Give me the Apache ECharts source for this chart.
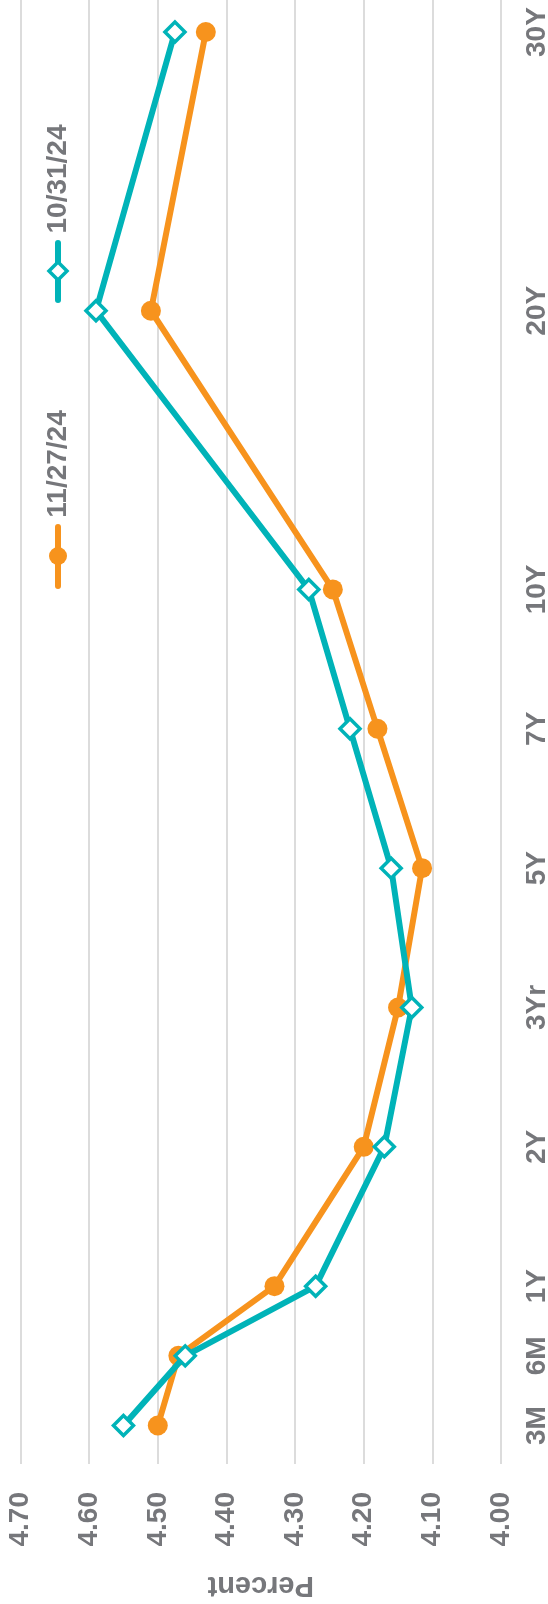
<!DOCTYPE html>
<html>
<head>
<meta charset="utf-8">
<script src="https://cdn.jsdelivr.net/npm/echarts@6/dist/echarts.min.js"></script>
<style>
html,body{margin:0;padding:0;background:#fff;}
#chart{width:548px;height:1604px;}
</style>
</head>
<body>
<div id="chart"></div>
<script>
// Tenor labels and their positions along the maturity axis
const tenors = ['3M', '6M', '1Y', '2Y', '3Yr', '5Y', '7Y', '10Y', '20Y', '30Y'];
const tenorPos = [0, 0.5, 1, 2, 3, 4, 5, 6, 8, 10];
// Yields (percent)
const seriesNames = ['11/27/24', '10/31/24'];
const yieldsNov27 = [4.50, 4.47, 4.33, 4.20, 4.15, 4.115, 4.18, 4.245, 4.51, 4.43];
const yieldsOct31 = [4.55, 4.46, 4.27, 4.17, 4.13, 4.16, 4.22, 4.28, 4.59, 4.475];

const ORANGE = '#f7931d';
const TEAL = '#00b3b8';
const GREY = '#76777b';
const FONT = '"Liberation Sans", Arial, sans-serif';

const chart = echarts.init(document.getElementById('chart'));

function pts(vals) { return vals.map((v, i) => [v, tenorPos[i]]); }

const legendTextStyle = { fill: GREY, font: 'bold 28px ' + FONT, align: 'center', verticalAlign: 'middle' };

chart.setOption({
  animation: false,
  backgroundColor: '#ffffff',
  grid: { left: 20.5, right: 47, top: 0, bottom: 140, containLabel: false, outerBoundsMode: 'none' },
  xAxis: {
    type: 'value',
    min: 4.0, max: 4.7, interval: 0.1,
    inverse: true,
    position: 'bottom',
    axisLine: { show: false },
    axisTick: { show: false },
    splitLine: { show: true, lineStyle: { color: '#dcdcdc', width: 2 } },
    axisLabel: {
      rotate: 90, margin: 28, color: GREY, fontSize: 28, fontWeight: 'bold', fontFamily: FONT,
      formatter: v => v.toFixed(2)
    },
    name: 'Percent', nameLocation: 'middle', nameRotate: 180, nameGap: 106,
    nameTextStyle: { color: GREY, fontSize: 29, fontWeight: 'bold', fontFamily: FONT }
  },
  yAxis: {
    type: 'value',
    min: -0.276, max: 10.23,
    position: 'right',
    axisLine: { show: false },
    axisTick: { show: false },
    splitLine: { show: false },
    axisLabel: {
      customValues: tenorPos,
      rotate: 90, margin: 22, color: GREY, fontSize: 28, fontWeight: 'bold', fontFamily: FONT,
      formatter: v => { const i = tenorPos.indexOf(v); return i >= 0 ? tenors[i] : ''; }
    }
  },
  series: [
    {
      name: seriesNames[0], type: 'line', data: pts(yieldsNov27),
      symbol: 'circle', symbolSize: 20,
      lineStyle: { color: ORANGE, width: 6 },
      itemStyle: { color: ORANGE, borderColor: ORANGE, borderWidth: 0 },
      z: 2
    },
    {
      name: seriesNames[1], type: 'line', data: pts(yieldsOct31),
      symbol: 'diamond', symbolSize: 20,
      lineStyle: { color: TEAL, width: 6 },
      itemStyle: { color: '#ffffff', borderColor: TEAL, borderWidth: 3.5 },
      z: 3
    }
  ],
  graphic: [
    { type: 'line', shape: { x1: 58, y1: 527, x2: 58, y2: 586 }, style: { stroke: ORANGE, lineWidth: 6, lineCap: 'round' } },
    { type: 'circle', shape: { cx: 58, cy: 556, r: 9 }, style: { fill: ORANGE } },
    { type: 'text', x: 58, y: 464, rotation: Math.PI / 2, style: Object.assign({ text: seriesNames[0] }, legendTextStyle) },
    { type: 'line', shape: { x1: 58, y1: 243, x2: 58, y2: 300 }, style: { stroke: TEAL, lineWidth: 6, lineCap: 'round' } },
    { type: 'polygon', shape: { points: [[58, 262], [67, 271], [58, 280], [49, 271]] }, style: { fill: '#ffffff', stroke: TEAL, lineWidth: 3.5 } },
    { type: 'text', x: 58, y: 179, rotation: Math.PI / 2, style: Object.assign({ text: seriesNames[1] }, legendTextStyle) }
  ]
});
</script>
</body>
</html>
